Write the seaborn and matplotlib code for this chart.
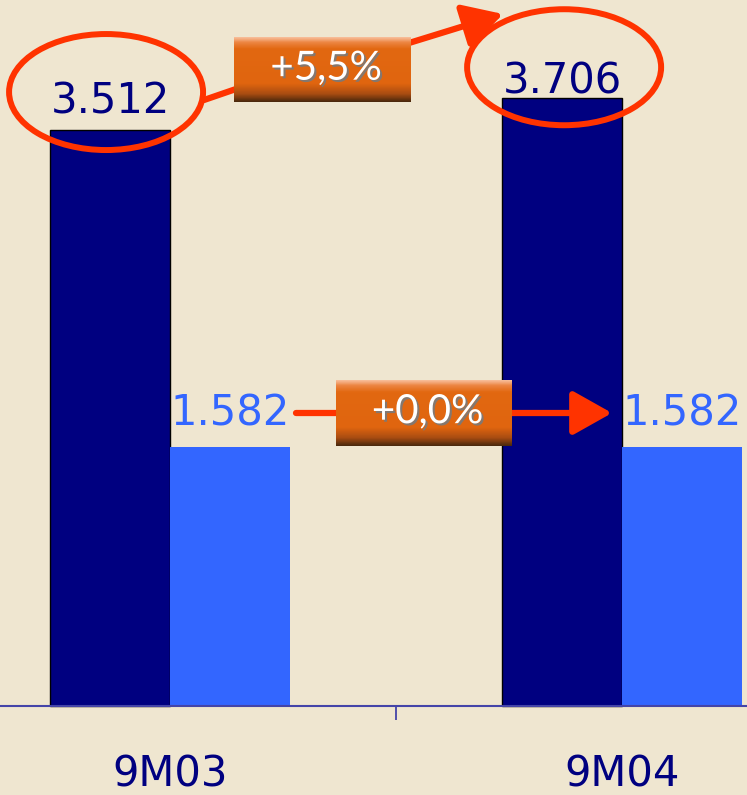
import matplotlib
matplotlib.use("Agg")
import matplotlib.pyplot as plt
import matplotlib.patheffects as pe
from matplotlib.patches import Ellipse
from matplotlib.transforms import IdentityTransform
from matplotlib.colors import LinearSegmentedColormap
import numpy as np
import pandas as pd
import seaborn as sns

# Data
periods = ["9M03", "9M04"]
series_names = ["Serie A", "Serie B"]
serie_a = [3512, 3706]
serie_b = [1582, 1582]

NAVY = "#000080"
BLUE = "#3366FF"
BG = "#EFE6D0"
RED = "#FF3300"
AXIS = "#4444A8"
W, H = 747, 795

df = pd.DataFrame({
    "period": periods * 2,
    "series": [series_names[0]] * 2 + [series_names[1]] * 2,
    "value": serie_a + serie_b,
})


def fmt(v):
    return f"{int(v):,}".replace(",", ".")


def pct(a, b):
    return f"{(b / a - 1) * 100:+.1f}%".replace(".", ",")


sns.set_theme(style="white")
plt.rcParams["font.family"] = ["DejaVu Sans"]

fig = plt.figure(figsize=(W / 100, H / 100), dpi=100, facecolor=BG)
ax = fig.add_axes([0, 0, 1, 1])
ax.set_facecolor(BG)

sns.barplot(data=df, x="period", y="value", hue="series", palette=[NAVY, BLUE],
            width=0.53, gap=0, saturation=1, errorbar=None, legend=False, ax=ax)

ax.set_xlim(-0.376, 1.2765)
ax.set_ylim(-543, 4305)
ax.set_xlabel("")
ax.set_ylabel("")
ax.set_yticks([])

for bar in ax.containers[0]:
    bar.set_edgecolor("black")
    bar.set_linewidth(1)
for bar in ax.containers[1]:
    bar.set_linewidth(0)

# axis line + ticks
for s in ["top", "left", "right"]:
    ax.spines[s].set_visible(False)
ax.spines["bottom"].set_position(("data", 0))
ax.spines["bottom"].set_color(AXIS)
ax.spines["bottom"].set_linewidth(1.5)
ax.set_xticks([0, 1], periods)
ax.set_xticks([0.5], minor=True)
ax.tick_params(axis="x", which="major", bottom=True, length=0, pad=34,
               labelsize=30, labelcolor=NAVY)
ax.tick_params(axis="x", which="minor", bottom=True, length=10, width=1.3,
               color=AXIS, direction="out")


def bar_top_px(bar):
    x = bar.get_x() + bar.get_width() / 2
    dx, dy = ax.transData.transform((x, bar.get_height()))
    return dx, H - dy


# value labels (lift above bar top, in px)
lifts = [[17, 5], [21, 21]]
for ci, (cont, col) in enumerate(zip(ax.containers, [NAVY, BLUE])):
    for bi, bar in enumerate(cont):
        cx = bar.get_x() + bar.get_width() / 2
        ax.annotate(fmt(bar.get_height()), (cx, bar.get_height()),
                    xytext=(0, lifts[ci][bi] * 0.72), textcoords="offset points",
                    ha="center", va="baseline", fontsize=30, color=col)

# red ellipses around the dark-bar values
ell_off = [(-4, -38), (2, -31)]
for bar, (ox, oy) in zip(ax.containers[0], ell_off):
    px, py = bar_top_px(bar)
    e = Ellipse((px + ox, H - (py + oy)), 194, 116, fill=False, edgecolor=RED,
                linewidth=4.3, transform=IdentityTransform(), clip_on=False, zorder=5)
    ax.add_artist(e)


def fpx(x, y):
    return (x, H - y)


def link(p0, p1, head=False):
    style = "-|>,head_length=2.4,head_width=1.35" if head else "-"
    ax.annotate("", xy=fpx(*p1), xycoords="figure pixels",
                xytext=fpx(*p0), textcoords="figure pixels",
                arrowprops=dict(arrowstyle=style, color=RED, lw=4.5,
                                shrinkA=0, shrinkB=0, mutation_scale=10),
                zorder=5)


link((204, 100), (236, 89))
link((409, 43), (503, 14), head=True)
link((296, 413), (338, 413))
link((510, 413), (612, 413), head=True)

# orange badges
badge_cmap = LinearSegmentedColormap.from_list(
    "badge", [(0.0, "#F8BE9A"), (0.08, "#EC8440"), (0.18, "#E26811"),
              (0.72, "#E0650F"), (0.88, "#A84C12"), (1.0, "#4A280C")])
grad = np.linspace(0, 1, 120).reshape(-1, 1)


def badge(x0, y0, w, h, text):
    bax = fig.add_axes([x0 / W, 1 - (y0 + h) / H, w / W, h / H])
    bax.imshow(grad, aspect="auto", cmap=badge_cmap, extent=(0, 1, 0, 1))
    bax.set_axis_off()
    bax.text(0.52, 0.52, text, ha="center", va="center", fontsize=29,
             color="white", family=["Lato", "DejaVu Sans"],
             path_effects=[pe.withSimplePatchShadow(offset=(1.5, -1.5),
                                                    shadow_rgbFace="#7A7A7A", alpha=0.9)])


badge(234, 37, 177, 65, pct(serie_a[0], serie_a[1]))
badge(336, 380, 176, 66, pct(serie_b[0], serie_b[1]))

fig.savefig("out.png", dpi=100, facecolor=BG)
